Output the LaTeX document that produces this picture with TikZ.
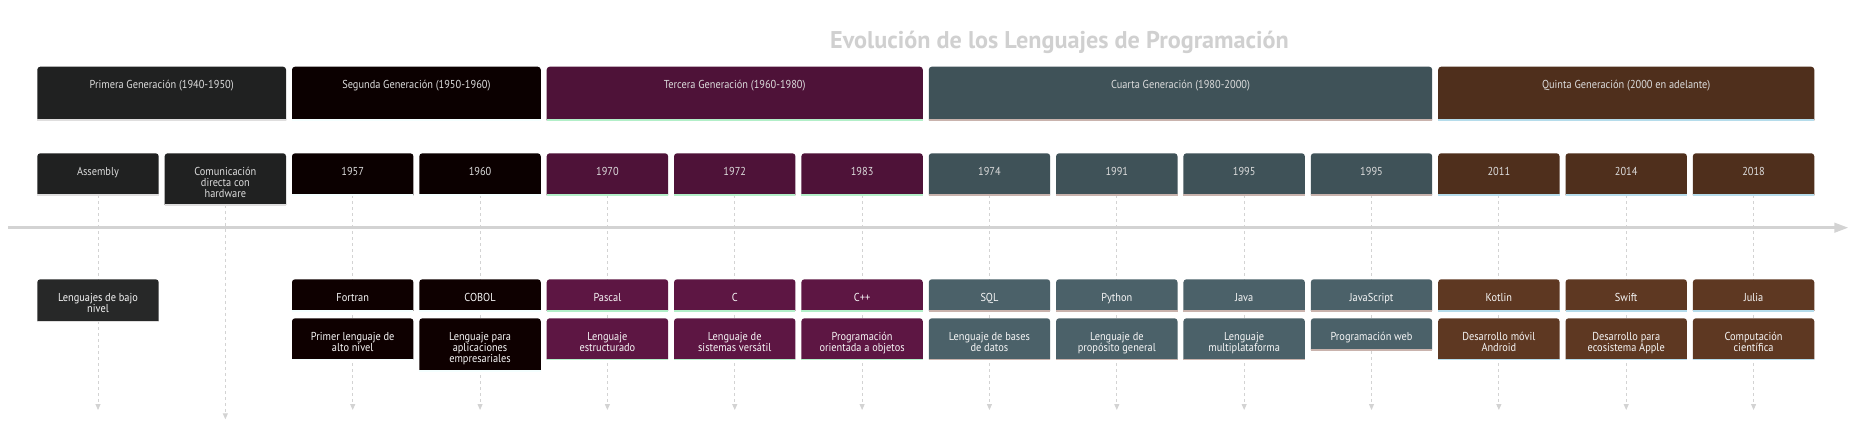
\documentclass[tikz,border=0pt]{standalone}
\usepackage{fontspec}
\setmainfont{PT Sans}[FakeStretch=0.9]
\newfontfamily\titlefont{PT Sans}
\usetikzlibrary{arrows.meta}
\pgfdeclarelayer{paper}
\pgfdeclarelayer{bg}
\pgfsetlayers{paper,bg,main}
\definecolor{sOne}{HTML}{202121}\definecolor{sOneL}{HTML}{272828}\definecolor{lOne}{HTML}{DFDEDE}
\definecolor{sTwo}{HTML}{0B0000}\definecolor{sTwoL}{HTML}{0E0000}\definecolor{lTwo}{HTML}{F4FFFF}
\definecolor{sThr}{HTML}{4E1238}\definecolor{sThrL}{HTML}{5D1643}\definecolor{lThr}{HTML}{B2EFC8}
\definecolor{sFou}{HTML}{3F5258}\definecolor{sFouL}{HTML}{4B6169}\definecolor{lFou}{HTML}{C9B3AD}
\definecolor{sFiv}{HTML}{4F2F1C}\definecolor{sFivL}{HTML}{5E3822}\definecolor{lFiv}{HTML}{B5DCEB}
\definecolor{axisgray}{HTML}{D3D3D3}
\definecolor{titlegray}{HTML}{D0D0D0}
\definecolor{toptext}{HTML}{DCDCDC}
\definecolor{lowtext}{HTML}{F6F6F6}
\newcommand\fl{\rule{0pt}{9pt}}
\tikzset{
  holder/.style={draw=none, fill=none, inner sep=0pt, outer sep=0pt, anchor=north west},
  lbl/.style={inner sep=0pt, align=center, font=\fontsize{11.5}{11}\selectfont},
  guide/.style={draw=axisgray, line width=0.9pt, dash pattern=on 3pt off 3pt, -{Triangle[width=5pt,length=6pt]}},
}
% #1 name, #2 left, #3 top, #4 width, #5 height, #6 fill, #7 line colour, #8 text colour, #9 text
\newcommand\tlbox[9]{%
  \node[holder, minimum width=#4pt, minimum height=#5pt] (#1) at (#2,#3) {};
  \fill[#6] (#1.south west) [rounded corners=3pt] -- (#1.north west) -- (#1.north east) [sharp corners] -- (#1.south east) -- cycle;
  \draw[#7, line width=1.6pt] (#1.south west) -- (#1.south east);
  \node[lbl, text=#8, anchor=north] (#1-t) at ([yshift=-13pt]#1.north) {\fl #9};
}
\begin{document}
\begin{tikzpicture}[x=1pt,y=-1pt]
\begin{pgfonlayer}{paper}
\fill[white] (0,0) rectangle (1867,427);
\end{pgfonlayer}
\useasboundingbox (0,0) rectangle (1867,427);
% title
\node[font=\titlefont\bfseries\fontsize{24.2}{24}\selectfont, text=titlegray, anchor=base] (title) at (1059.5,49) {Evolución de los Lenguajes de Programación};
% sections
\tlbox{sec1}{37.3}{66.7}{248.75}{53.6}{sOne}{lOne}{toptext}{Primera Generación (1940-1950)}
\tlbox{sec2}{292.0}{66.7}{248.75}{53.6}{sTwo}{lTwo}{toptext}{Segunda Generación (1950-1960)}
\tlbox{sec3}{546.7}{66.7}{376.1}{53.6}{sThr}{lThr}{toptext}{Tercera Generación (1960-1980)}
\tlbox{sec4}{928.75}{66.7}{503.45}{53.6}{sFou}{lFou}{toptext}{Cuarta Generación (1980-2000)}
\tlbox{sec5}{1438.15}{66.7}{376.1}{53.6}{sFiv}{lFiv}{toptext}{Quinta Generación (2000 en adelante)}
% period row
\tlbox{p0}{37.3}{153.3}{121.4}{42}{sOne}{lOne}{toptext}{Assembly}
\tlbox{p1}{164.65}{153.3}{121.4}{51.7}{sOne}{lOne}{toptext}{Comunicación\\directa con\\hardware}
\tlbox{p2}{292.0}{153.3}{121.4}{42}{sTwo}{lTwo}{toptext}{1957}
\tlbox{p3}{419.35}{153.3}{121.4}{42}{sTwo}{lTwo}{toptext}{1960}
\tlbox{p4}{546.7}{153.3}{121.4}{42}{sThr}{lThr}{toptext}{1970}
\tlbox{p5}{674.05}{153.3}{121.4}{42}{sThr}{lThr}{toptext}{1972}
\tlbox{p6}{801.4}{153.3}{121.4}{42}{sThr}{lThr}{toptext}{1983}
\tlbox{p7}{928.75}{153.3}{121.4}{42}{sFou}{lFou}{toptext}{1974}
\tlbox{p8}{1056.1}{153.3}{121.4}{42}{sFou}{lFou}{toptext}{1991}
\tlbox{p9}{1183.45}{153.3}{121.4}{42}{sFou}{lFou}{toptext}{1995}
\tlbox{p10}{1310.8}{153.3}{121.4}{42}{sFou}{lFou}{toptext}{1995}
\tlbox{p11}{1438.15}{153.3}{121.4}{42}{sFiv}{lFiv}{toptext}{2011}
\tlbox{p12}{1565.5}{153.3}{121.4}{42}{sFiv}{lFiv}{toptext}{2014}
\tlbox{p13}{1692.85}{153.3}{121.4}{42}{sFiv}{lFiv}{toptext}{2018}
% name row
\tlbox{n0}{37.3}{279.3}{121.4}{42.4}{sOneL}{lOne}{lowtext}{Lenguajes de bajo\\nivel}
\tlbox{n2}{292.0}{279.3}{121.4}{31.7}{sTwoL}{lTwo}{lowtext}{Fortran}
\tlbox{n3}{419.35}{279.3}{121.4}{31.7}{sTwoL}{lTwo}{lowtext}{COBOL}
\tlbox{n4}{546.7}{279.3}{121.4}{31.7}{sThrL}{lThr}{lowtext}{Pascal}
\tlbox{n5}{674.05}{279.3}{121.4}{31.7}{sThrL}{lThr}{lowtext}{C}
\tlbox{n6}{801.4}{279.3}{121.4}{31.7}{sThrL}{lThr}{lowtext}{C++}
\tlbox{n7}{928.75}{279.3}{121.4}{31.7}{sFouL}{lFou}{lowtext}{SQL}
\tlbox{n8}{1056.1}{279.3}{121.4}{31.7}{sFouL}{lFou}{lowtext}{Python}
\tlbox{n9}{1183.45}{279.3}{121.4}{31.7}{sFouL}{lFou}{lowtext}{Java}
\tlbox{n10}{1310.8}{279.3}{121.4}{31.7}{sFouL}{lFou}{lowtext}{JavaScript}
\tlbox{n11}{1438.15}{279.3}{121.4}{31.7}{sFivL}{lFiv}{lowtext}{Kotlin}
\tlbox{n12}{1565.5}{279.3}{121.4}{31.7}{sFivL}{lFiv}{lowtext}{Swift}
\tlbox{n13}{1692.85}{279.3}{121.4}{31.7}{sFivL}{lFiv}{lowtext}{Julia}
% description row
\tlbox{d2}{292.0}{318.3}{121.4}{41}{sTwoL}{lTwo}{lowtext}{Primer lenguaje de\\alto nivel}
\tlbox{d3}{419.35}{318.3}{121.4}{52.7}{sTwoL}{lTwo}{lowtext}{Lenguaje para\\aplicaciones\\empresariales}
\tlbox{d4}{546.7}{318.3}{121.4}{41}{sThrL}{lThr}{lowtext}{Lenguaje\\estructurado}
\tlbox{d5}{674.05}{318.3}{121.4}{41}{sThrL}{lThr}{lowtext}{Lenguaje de\\sistemas versátil}
\tlbox{d6}{801.4}{318.3}{121.4}{41}{sThrL}{lThr}{lowtext}{Programación\\orientada a objetos}
\tlbox{d7}{928.75}{318.3}{121.4}{41}{sFouL}{lFou}{lowtext}{Lenguaje de bases\\de datos}
\tlbox{d8}{1056.1}{318.3}{121.4}{41}{sFouL}{lFou}{lowtext}{Lenguaje de\\propósito general}
\tlbox{d9}{1183.45}{318.3}{121.4}{41}{sFouL}{lFou}{lowtext}{Lenguaje\\multiplataforma}
\tlbox{d10}{1310.8}{318.3}{121.4}{31.7}{sFouL}{lFou}{lowtext}{Programación web}
\tlbox{d11}{1438.15}{318.3}{121.4}{41}{sFivL}{lFiv}{lowtext}{Desarrollo móvil\\Android}
\tlbox{d12}{1565.5}{318.3}{121.4}{41}{sFivL}{lFiv}{lowtext}{Desarrollo para\\ecosistema Apple}
\tlbox{d13}{1692.85}{318.3}{121.4}{41}{sFivL}{lFiv}{lowtext}{Computación\\científica}
% guide end points
\foreach \i in {0,2,3,...,13} {\coordinate (e\i) at (p\i.south |- 0,410);}
\coordinate (e1) at (p1.south |- 0,419.3);
\begin{pgfonlayer}{bg}
\foreach \i in {0,...,13} {\draw[guide] (p\i.south) -- (e\i);}
\end{pgfonlayer}
% axis
\coordinate (axstart) at (8,227.7);
\coordinate (axend) at (1848.3,227.7);
\draw[axisgray, line width=2.6pt, -{Triangle[width=9.5pt,length=14pt]}] (axstart) -- (axend);
\end{tikzpicture}
\end{document}
